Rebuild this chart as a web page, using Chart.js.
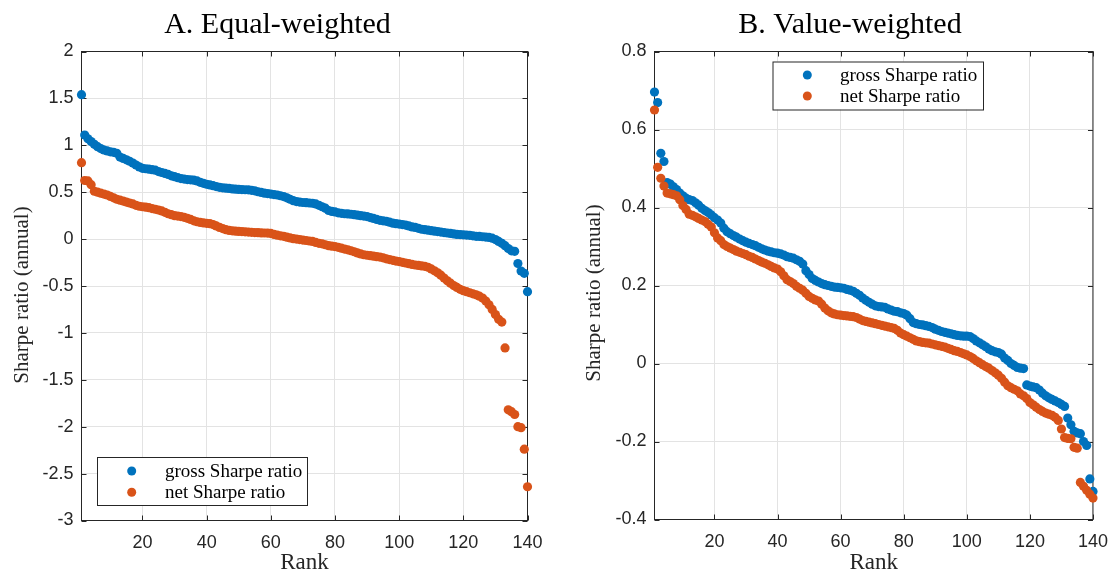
<!DOCTYPE html>
<html><head><meta charset="utf-8">
<script src="https://cdn.jsdelivr.net/npm/chart.js@4.4.1/dist/chart.umd.min.js"></script>
<style>
html,body{margin:0;padding:0;background:#fff;}
#wrap{position:relative;width:1120px;height:577px;overflow:hidden;}
.pane{position:absolute;top:0;width:560px;height:577px;}
</style></head><body>
<div id="wrap">
<div class="pane" style="left:0"><canvas id="cA" width="560" height="577"></canvas></div>
<div class="pane" style="left:560px"><canvas id="cB" width="560" height="577"></canvas></div>
</div>
<script>
// ---------- data ----------
const ranks = Array.from({length: 140}, (_, i) => i + 1);
const seriesLabels = ['gross Sharpe ratio', 'net Sharpe ratio'];
const panelTitles = ['A. Equal-weighted', 'B. Value-weighted'];
const xTitle = 'Rank';
const yTitle = 'Sharpe ratio (annual)';
const xTickValues = [20, 40, 60, 80, 100, 120, 140];
const yTickValuesA = [-3, -2.5, -2, -1.5, -1, -0.5, 0, 0.5, 1, 1.5, 2];
const yTickLabelsA = ['-3', '-2.5', '-2', '-1.5', '-1', '-0.5', '0', '0.5', '1', '1.5', '2'];
const yTickValuesB = [-0.4, -0.2, 0, 0.2, 0.4, 0.6, 0.8];
const yTickLabelsB = ['-0.4', '-0.2', '0', '0.2', '0.4', '0.6', '0.8'];

const grossEW = [
  1.54, 1.11, 1.07, 1.04, 1.01, 0.985, 0.965, 0.95, 0.94, 0.93,
  0.925, 0.915, 0.875, 0.86, 0.845, 0.83, 0.81, 0.79, 0.77, 0.755,
  0.75, 0.745, 0.74, 0.735, 0.72, 0.71, 0.70, 0.69, 0.675, 0.665,
  0.655, 0.645, 0.64, 0.635, 0.632, 0.628, 0.62, 0.605, 0.595, 0.585,
  0.578, 0.57, 0.56, 0.552, 0.547, 0.543, 0.54, 0.535, 0.532, 0.53,
  0.528, 0.526, 0.525, 0.52, 0.515, 0.505, 0.498, 0.49, 0.485, 0.48,
  0.475, 0.47, 0.462, 0.453, 0.44, 0.425, 0.41, 0.40, 0.395, 0.39,
  0.388, 0.385, 0.382, 0.375, 0.36, 0.345, 0.33, 0.305, 0.295, 0.29,
  0.28, 0.275, 0.27, 0.268, 0.265, 0.26, 0.255, 0.25, 0.245, 0.24,
  0.23, 0.22, 0.21, 0.2, 0.195, 0.19, 0.18, 0.17, 0.165, 0.16,
  0.155, 0.15, 0.14, 0.13, 0.125, 0.115, 0.105, 0.1, 0.095, 0.09,
  0.085, 0.08, 0.075, 0.07, 0.065, 0.06, 0.055, 0.05, 0.048, 0.046,
  0.043, 0.04, 0.035, 0.03, 0.028, 0.025, 0.022, 0.018, 0.01, -0.005,
  -0.025, -0.045, -0.07, -0.10, -0.125, -0.13, -0.26, -0.34, -0.365, -0.56
];
const netEW = [
  0.815, 0.625, 0.62, 0.58, 0.51, 0.5, 0.49, 0.48, 0.47, 0.455,
  0.44, 0.425, 0.415, 0.405, 0.395, 0.385, 0.375, 0.36, 0.35, 0.345,
  0.34, 0.335, 0.325, 0.318, 0.31, 0.3, 0.285, 0.27, 0.26, 0.25,
  0.245, 0.24, 0.232, 0.222, 0.21, 0.195, 0.185, 0.178, 0.172, 0.168,
  0.165, 0.155, 0.14, 0.125, 0.112, 0.1, 0.093, 0.088, 0.085, 0.082,
  0.08, 0.078, 0.075, 0.072, 0.07, 0.068, 0.066, 0.065, 0.064, 0.06,
  0.05, 0.042, 0.035, 0.03, 0.02, 0.012, 0.005, 0.0, -0.005, -0.01,
  -0.015, -0.02, -0.025, -0.035, -0.045, -0.05, -0.06, -0.07, -0.075, -0.08,
  -0.088, -0.097, -0.106, -0.114, -0.124, -0.135, -0.147, -0.158, -0.167, -0.172,
  -0.177, -0.182, -0.187, -0.192, -0.2, -0.21, -0.218, -0.226, -0.234, -0.24,
  -0.248, -0.255, -0.262, -0.27, -0.276, -0.281, -0.286, -0.29, -0.3, -0.318,
  -0.338, -0.36, -0.385, -0.415, -0.445, -0.47, -0.495, -0.515, -0.535, -0.55,
  -0.56, -0.572, -0.583, -0.594, -0.608, -0.628, -0.66, -0.7, -0.75, -0.805,
  -0.855, -0.885, -1.16, -1.82, -1.84, -1.87, -2.0, -2.01, -2.24, -2.64
];
const grossVW = [
  0.696, 0.669, 0.539, 0.518, 0.464, 0.46, 0.453, 0.446, 0.437, 0.43,
  0.424, 0.42, 0.418, 0.412, 0.406, 0.398, 0.392, 0.387, 0.381, 0.374,
  0.368, 0.36, 0.347, 0.338, 0.333, 0.328, 0.324, 0.319, 0.315, 0.311,
  0.308, 0.305, 0.302, 0.298, 0.294, 0.291, 0.288, 0.286, 0.284, 0.283,
  0.281, 0.278, 0.274, 0.272, 0.27, 0.266, 0.262, 0.255, 0.238, 0.228,
  0.218, 0.213, 0.209, 0.205, 0.202, 0.2, 0.198, 0.196, 0.195, 0.194,
  0.193, 0.19, 0.188, 0.185, 0.18, 0.175, 0.168, 0.162, 0.157, 0.152,
  0.148, 0.146, 0.145, 0.144, 0.14, 0.137, 0.134, 0.133, 0.13, 0.128,
  0.124, 0.115, 0.105, 0.102, 0.1, 0.099, 0.097, 0.095, 0.092, 0.088,
  0.085, 0.082, 0.08, 0.078, 0.076, 0.074, 0.072, 0.071, 0.07, 0.07,
  0.069, 0.064, 0.058, 0.053, 0.048, 0.043, 0.037, 0.033, 0.03, 0.028,
  0.024, 0.014, 0.008, 0.0, -0.005, -0.01, -0.012, -0.013, -0.055, -0.058,
  -0.06, -0.062, -0.068, -0.076, -0.083, -0.088, -0.092, -0.096, -0.1, -0.105,
  -0.11, -0.14, -0.157, -0.174, -0.178, -0.18, -0.2, -0.21, -0.296, -0.328
];
const netVW = [
  0.65, 0.503, 0.475, 0.455, 0.437, 0.435, 0.433, 0.43, 0.42, 0.405,
  0.395, 0.383, 0.38, 0.376, 0.372, 0.368, 0.364, 0.357, 0.35, 0.335,
  0.322, 0.315, 0.305, 0.3, 0.296, 0.292, 0.288, 0.285, 0.282, 0.279,
  0.275, 0.272, 0.268, 0.264, 0.26, 0.257, 0.253, 0.249, 0.245, 0.242,
  0.235, 0.225, 0.215, 0.21, 0.205, 0.198, 0.193, 0.188, 0.18, 0.172,
  0.167, 0.163, 0.16, 0.152, 0.142, 0.135, 0.13, 0.127, 0.125, 0.124,
  0.123, 0.122, 0.121, 0.12, 0.118, 0.114, 0.11, 0.108, 0.106, 0.104,
  0.102, 0.1, 0.098, 0.096, 0.094, 0.092, 0.09, 0.085, 0.078, 0.074,
  0.07, 0.066, 0.062, 0.058, 0.056, 0.054, 0.053, 0.052, 0.05, 0.048,
  0.046, 0.044, 0.042, 0.039, 0.036, 0.033, 0.031, 0.028, 0.025, 0.022,
  0.018, 0.013, 0.007, 0.002, -0.003, -0.008, -0.012, -0.018, -0.024, -0.03,
  -0.038, -0.048, -0.057, -0.062, -0.066, -0.07, -0.078, -0.083, -0.09, -0.1,
  -0.106, -0.112, -0.118, -0.123, -0.127, -0.13, -0.133, -0.138, -0.146, -0.168,
  -0.19, -0.192, -0.193, -0.215, -0.217, -0.305, -0.315, -0.325, -0.335, -0.345
];

// ---------- styling ----------
const BLUE = '#0072BD';
const ORANGE = '#D95319';
const AXIS = '#262626';
const GRID = '#e3e3e3';
const SANS = '"Liberation Sans", Arial, sans-serif';
const SERIF = '"Liberation Serif", "Times New Roman", serif';

const framePlugin = {
  id: 'frame',
  beforeDatasetsDraw(chart, args, o) {
    const {ctx, chartArea: {left, right, top, bottom}} = chart;
    const xs = chart.scales.x, ys = chart.scales.y;
    ctx.save();
    ctx.strokeStyle = AXIS;
    ctx.lineWidth = 1;
    ctx.strokeRect(left, top, right - left, bottom - top);
    const tl = 5;
    ctx.beginPath();
    xs.ticks.forEach(t => {
      const px = Math.round(xs.getPixelForValue(t.value)) + 0.5;
      ctx.moveTo(px, bottom); ctx.lineTo(px, bottom - tl);
      ctx.moveTo(px, top); ctx.lineTo(px, top + tl);
    });
    ys.ticks.forEach(t => {
      const py = Math.round(ys.getPixelForValue(t.value)) + 0.5;
      ctx.moveTo(left, py); ctx.lineTo(left + tl, py);
      ctx.moveTo(right, py); ctx.lineTo(right - tl, py);
    });
    ctx.stroke();
    ctx.restore();
  },
  afterDatasetsDraw(chart, args, o) {
    const ctx = chart.ctx;
    ctx.save();
    // panel title
    ctx.fillStyle = '#000';
    ctx.font = '30px ' + SERIF;
    ctx.textAlign = 'center';
    ctx.textBaseline = 'alphabetic';
    ctx.fillText(o.title, o.titleX, 33);
    // y axis title
    ctx.save();
    ctx.translate(o.yTitleX, o.yTitleY);
    ctx.rotate(-Math.PI / 2);
    ctx.font = '21px ' + SERIF;
    ctx.fillStyle = AXIS;
    ctx.textAlign = 'center';
    ctx.textBaseline = 'middle';
    ctx.fillText(yTitle, 0, 0);
    ctx.restore();
    // legend
    const L = o.legend;
    ctx.fillStyle = '#fff';
    ctx.fillRect(L.x, L.y, L.w, L.h);
    ctx.strokeStyle = AXIS;
    ctx.lineWidth = 1;
    ctx.strokeRect(L.x + 0.5, L.y + 0.5, L.w, L.h);
    const cols = [BLUE, ORANGE];
    ctx.font = '19px ' + SERIF;
    ctx.textAlign = 'left';
    ctx.textBaseline = 'middle';
    seriesLabels.forEach((lab, i) => {
      const y = L.rows[i];
      ctx.beginPath();
      ctx.fillStyle = cols[i];
      ctx.arc(L.mx, y, 4.5, 0, Math.PI * 2);
      ctx.fill();
      ctx.fillStyle = '#000';
      ctx.fillText(lab, L.tx, y + 1);
    });
    ctx.restore();
  }
};

function pts(vals) { return ranks.map((r, i) => ({x: r, y: vals[i]})); }

function makeChart(id, c) {
  return new Chart(document.getElementById(id), {
    type: 'scatter',
    data: {
      datasets: [
        {label: seriesLabels[0], data: pts(c.gross), backgroundColor: BLUE, borderWidth: 0, pointRadius: 4.6, pointHoverRadius: 4.6, order: 1, clip: false},
        {label: seriesLabels[1], data: pts(c.net), backgroundColor: ORANGE, borderWidth: 0, pointRadius: 4.6, pointHoverRadius: 4.6, order: 0, clip: false}
      ]
    },
    options: {
      responsive: false,
      animation: false,
      devicePixelRatio: 1,
      layout: {padding: {left: 0, right: c.padRight, top: 51.5, bottom: 0}},
      plugins: {
        legend: {display: false},
        tooltip: {enabled: false},
        title: {display: false},
        frame: c.frame
      },
      scales: {
        x: {
          type: 'linear', min: 1, max: 140,
          afterBuildTicks: s => { s.ticks = xTickValues.map(v => ({value: v})); },
          afterFit: s => { s.height = c.xh; },
          ticks: {font: {family: SANS, size: 18}, color: AXIS, padding: 12, maxRotation: 0, autoSkip: false,
                  callback: v => String(v)},
          grid: {color: GRID, drawTicks: false, lineWidth: 1},
          border: {display: false},
          title: {display: true, text: xTitle, font: {family: SERIF, size: 23}, color: AXIS, padding: {top: 0, bottom: 0}}
        },
        y: {
          type: 'linear', min: c.yMin, max: c.yMax,
          afterBuildTicks: s => { s.ticks = c.yTicks.map(v => ({value: v})); },
          afterFit: s => { s.width = c.yw; },
          ticks: {font: {family: SANS, size: 18}, color: AXIS, padding: 8, autoSkip: false,
                  callback: v => { let k = 0; c.yTicks.forEach((t, i) => { if (Math.abs(t - v) < 1e-9) k = i; }); return c.yLabels[k]; }},
          grid: {color: GRID, drawTicks: false, lineWidth: 1},
          border: {display: false}
        }
      }
    },
    plugins: [framePlugin]
  });
}

makeChart('cA', {
  gross: grossEW, net: netEW,
  yMin: -3, yMax: 2, yTicks: yTickValuesA, yLabels: yTickLabelsA,
  yw: 81.5, xh: 56.5, padRight: 32.5,
  frame: {title: panelTitles[0], titleX: 277.5, yTitleX: 22, yTitleY: 295,
          legend: {x: 97, y: 457, w: 210, h: 48, mx: 131.7, tx: 165, rows: [471, 492.3]}}
});
makeChart('cB', {
  gross: grossVW, net: netVW,
  yMin: -0.4, yMax: 0.8, yTicks: yTickValuesB, yLabels: yTickLabelsB,
  yw: 94.5, xh: 57.5, padRight: 19.5,
  frame: {title: panelTitles[1], titleX: 290, yTitleX: 34, yTitleY: 293,
          legend: {x: 212.5, y: 61.5, w: 210.5, h: 48, mx: 247.3, tx: 280, rows: [75, 96]}}
});
</script>
</body></html>
